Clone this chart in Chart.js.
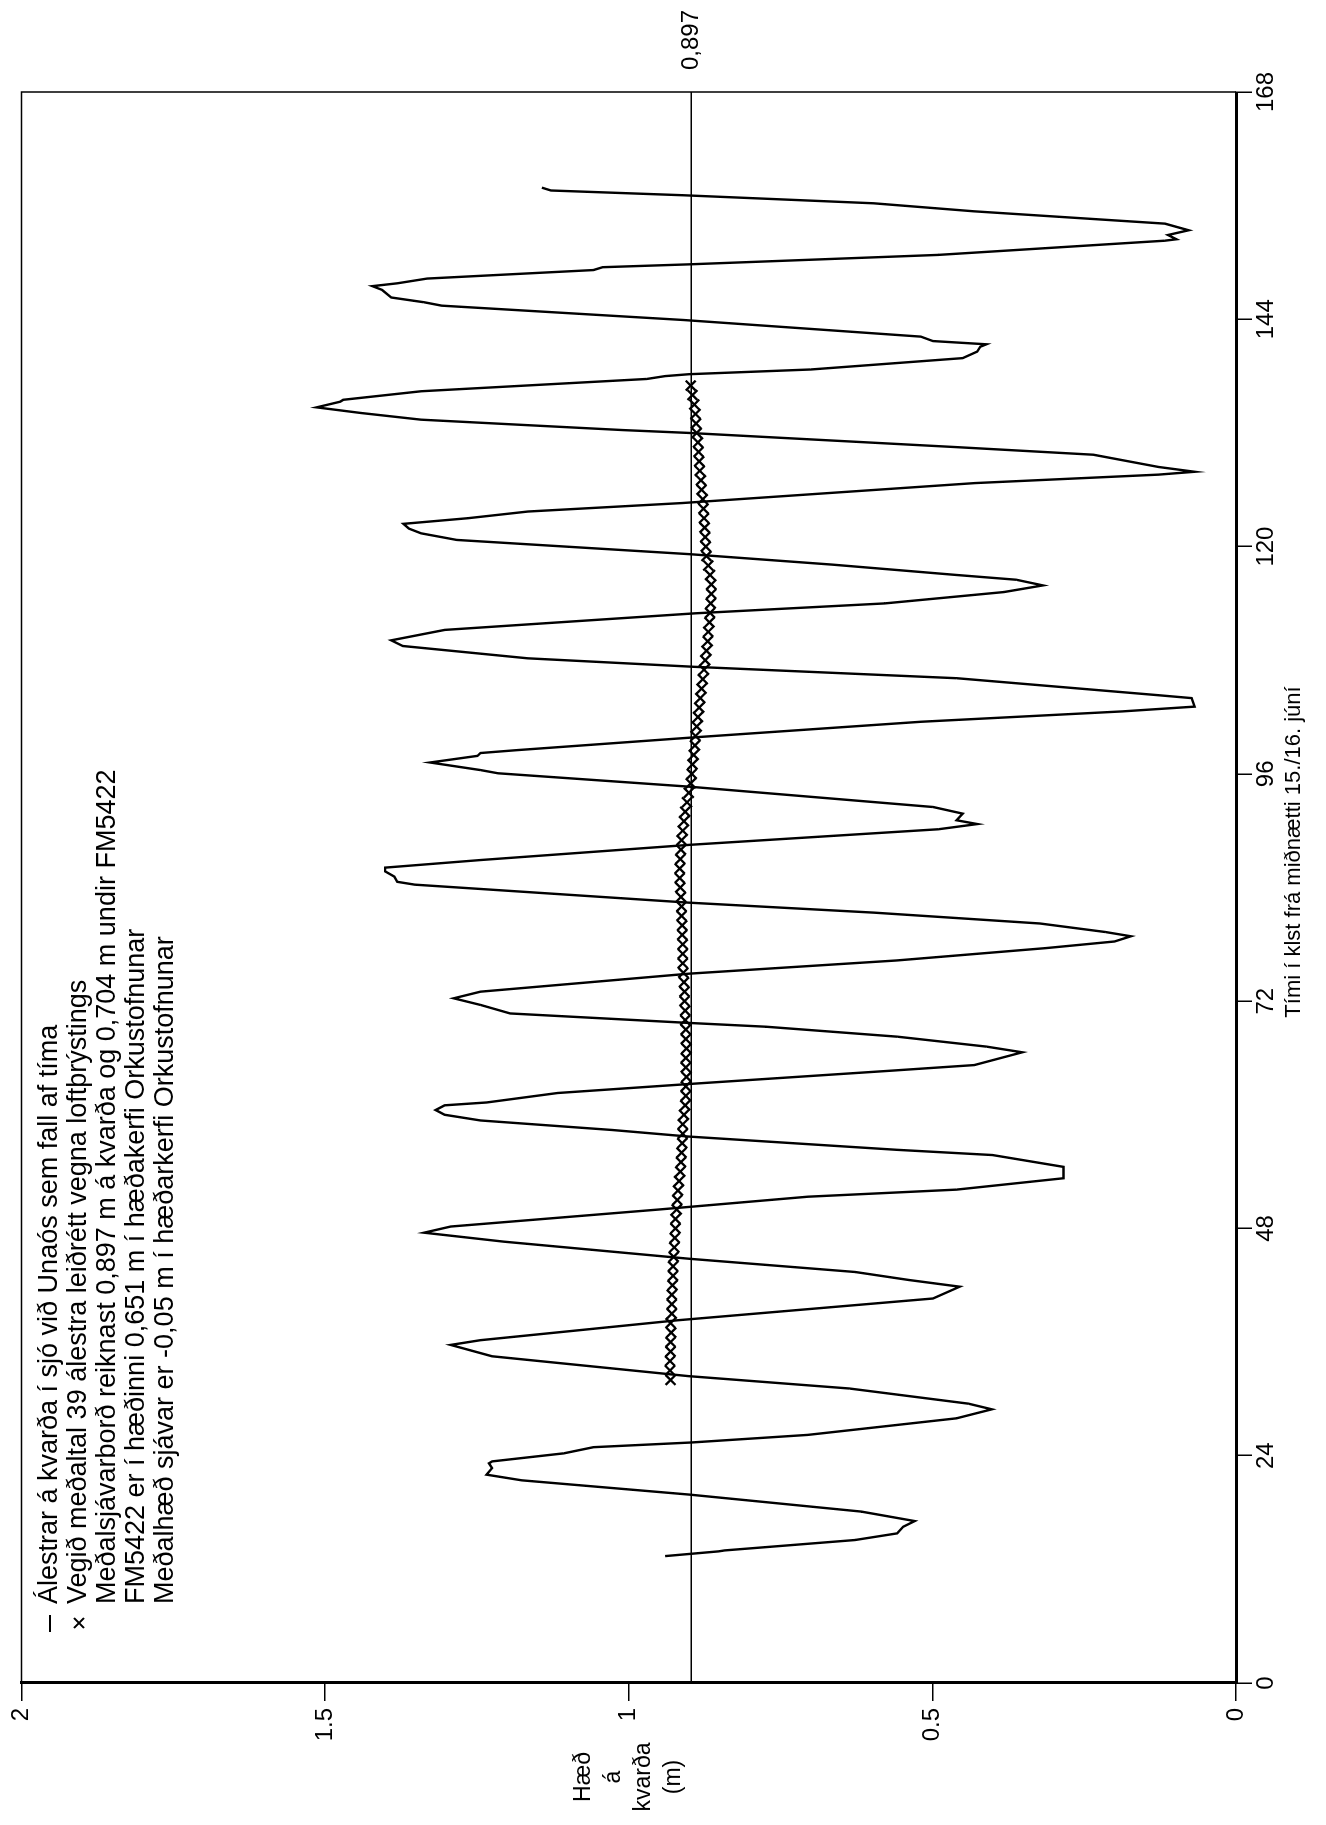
<!DOCTYPE html>
<html>
<head>
<meta charset="utf-8">
<script src="https://cdn.jsdelivr.net/npm/chart.js@4.4.1/dist/chart.umd.min.js"></script>
<style>
  html, body { margin: 0; padding: 0; background: #fff; }
  body { width: 1326px; height: 1825px; overflow: hidden; position: relative; }
  /* the sheet is laid out landscape and turned a quarter turn onto the portrait page */
  #sheet {
    position: absolute; left: 0; top: 0;
    width: 1825px; height: 1326px;
    transform-origin: 0 0;
    transform: translate(0, 1825px) rotate(-90deg);
    background: #fff;
  }
  canvas { display: block; }
</style>
</head>
<body>
<div id="sheet"><canvas id="tide" width="1825" height="1326"></canvas></div>
<script>
// Gauge readings at Unaós (hours from midnight 15./16. June, level on staff in m)
const tideHours = [
  13.4, 13.9, 14.0, 15.1, 15.8, 16.5, 17.1, 18.1, 19.9, 21.4, 22.0, 22.7, 23.2, 23.4,
  24.25, 24.9, 25.4, 26.2, 27.25, 27.95, 28.9, 29.5, 31.1, 32.4, 34.5, 35.7, 36.2, 38.3,
  40.6, 41.85, 42.55, 43.4, 44.8, 46.6, 47.55, 48.2, 50.0, 51.35, 52.1, 53.3, 54.5, 55.75,
  56.3, 57.7, 58.4, 59.4, 60.0, 60.5, 61.0, 61.3, 62.3, 63.25, 64.7, 65.25, 66.6, 67.2,
  68.25, 69.3, 69.7, 70.7, 71.6, 72.3, 73.0, 74.9, 76.3, 77.6, 78.3, 78.85, 79.3, 80.2,
  81.35, 82.4, 84.3, 84.6, 85.15, 85.7, 86.1, 86.9, 88.5, 90.15, 90.7, 91.1, 91.8, 92.5,
  94.65, 96.06, 96.4, 97.2, 97.9, 98.2, 98.5, 99.86, 101.5, 102.6, 103.1, 104.0, 104.3, 106.1,
  107.3, 108.2, 109.5, 110.1, 111.2, 112.95, 114.0, 115.2, 115.9, 116.5, 117.0, 118.1, 119.2, 120.7,
  121.4, 121.9, 122.4, 123.0, 123.7, 124.6, 126.7, 127.6, 127.9, 128.4, 129.7, 130.5, 132.0, 132.3,
  133.4, 134.1, 134.7, 135.3, 135.5, 136.4, 137.7, 138.0, 138.2, 138.7, 139.9, 140.59, 141.1, 141.36,
  141.7, 142.17, 143.93, 145.44, 145.8, 146.3, 147.1, 147.5, 147.8, 148.3, 149.2, 149.5, 149.8, 150.8,
  152.3, 152.45, 152.9, 153.4, 154.1, 155.4, 156.25, 157.1, 157.6, 157.9
];
const tideLevels = [
  0.940, 0.852, 0.842, 0.627, 0.558, 0.548, 0.529, 0.617, 0.901, 1.176, 1.234, 1.225, 1.230, 1.225,
  1.107, 1.058, 0.896, 0.705, 0.558, 0.460, 0.402, 0.441, 0.637, 0.901, 1.225, 1.293, 1.244, 0.920,
  0.499, 0.455, 0.538, 0.627, 0.901, 1.205, 1.337, 1.293, 0.950, 0.705, 0.460, 0.284, 0.284, 0.401,
  0.558, 0.901, 1.028, 1.244, 1.303, 1.318, 1.303, 1.234, 1.117, 0.901, 0.558, 0.431, 0.352, 0.411,
  0.558, 0.774, 0.901, 1.195, 1.244, 1.288, 1.244, 0.901, 0.558, 0.313, 0.200, 0.173, 0.215, 0.323,
  0.597, 0.901, 1.352, 1.381, 1.386, 1.401, 1.401, 1.244, 0.901, 0.490, 0.426, 0.460, 0.450, 0.499,
  0.901, 1.215, 1.244, 1.327, 1.249, 1.244, 1.185, 0.891, 0.519, 0.186, 0.068, 0.073, 0.127, 0.460,
  0.891, 1.166, 1.372, 1.391, 1.303, 0.891, 0.578, 0.382, 0.318, 0.362, 0.460, 0.666, 0.900, 1.283,
  1.342, 1.362, 1.371, 1.264, 1.166, 0.911, 0.431, 0.127, 0.068, 0.127, 0.235, 0.460, 0.901, 1.009,
  1.342, 1.440, 1.514, 1.475, 1.470, 1.342, 0.970, 0.940, 0.901, 0.700, 0.450, 0.426, 0.421, 0.411,
  0.499, 0.519, 0.911, 1.308, 1.337, 1.391, 1.406, 1.422, 1.381, 1.332, 1.058, 1.043, 0.901, 0.490,
  0.117, 0.098, 0.112, 0.078, 0.117, 0.431, 0.597, 0.911, 1.128, 1.143
];

// Weighted running mean of 39 readings, corrected for air pressure (hourly)
const meanHours = [
  32, 33, 34, 35, 36, 37, 38, 39, 40, 41, 42, 43, 44, 45, 46, 47, 48, 49, 50, 51, 52, 53,
  54, 55, 56, 57, 58, 59, 60, 61, 62, 63, 64, 65, 66, 67, 68, 69, 70, 71, 72, 73, 74, 75,
  76, 77, 78, 79, 80, 81, 82, 83, 84, 85, 86, 87, 88, 89, 90, 91, 92, 93, 94, 95, 96, 97,
  98, 99, 100, 101, 102, 103, 104, 105, 106, 107, 108, 109, 110, 111, 112, 113, 114, 115, 116, 117,
  118, 119, 120, 121, 122, 123, 124, 125, 126, 127, 128, 129, 130, 131, 132, 133, 134, 135, 136, 137
];
const meanLevels = [
  0.931, 0.932, 0.932, 0.931, 0.931, 0.930, 0.931, 0.929, 0.929, 0.929, 0.928, 0.927, 0.927, 0.926,
  0.925, 0.924, 0.923, 0.923, 0.921, 0.920, 0.919, 0.917, 0.915, 0.914, 0.913, 0.912, 0.911, 0.911,
  0.909, 0.907, 0.906, 0.906, 0.905, 0.906, 0.906, 0.905, 0.906, 0.906, 0.907, 0.907, 0.908, 0.908,
  0.909, 0.910, 0.911, 0.911, 0.911, 0.912, 0.912, 0.913, 0.913, 0.914, 0.915, 0.916, 0.916, 0.915,
  0.914, 0.913, 0.911, 0.909, 0.907, 0.904, 0.901, 0.898, 0.896, 0.895, 0.893, 0.891, 0.890, 0.888,
  0.886, 0.884, 0.882, 0.880, 0.878, 0.876, 0.874, 0.872, 0.870, 0.869, 0.867, 0.866, 0.865, 0.864,
  0.864, 0.866, 0.869, 0.872, 0.873, 0.874, 0.875, 0.876, 0.877, 0.878, 0.880, 0.881, 0.883, 0.884,
  0.885, 0.886, 0.888, 0.889, 0.890, 0.892, 0.895, 0.898
];

// Axis ticks
const hourTicks = [0, 24, 48, 72, 96, 120, 144, 168];
const levelTicks = [0, 0.5, 1, 1.5, 2];

// Mean sea level on the staff
const MEAN_LEVEL = 0.897;
const MEAN_LABEL = '0,897';

const legendLines = [
  'Álestrar á kvarða í sjó við Unaós sem fall af tíma',
  'Vegið meðaltal 39 álestra leiðrétt vegna loftþrýstings',
  'Meðalsjávarborð reiknast 0,897 m á kvarða og 0,704 m undir FM5422',
  'FM5422 er í hæðinni 0,651 m í hæðakerfi Orkustofnunar',
  'Meðalhæð sjávar er -0,05 m í hæðarkerfi Orkustofnunar'
];
const levelTitle = ['Hæð', 'á', 'kvarða', '(m)'];
const hourTitle = 'Tími í klst frá miðnætti 15./16. júní';

const FONT = '"Liberation Sans", Arial, Helvetica, sans-serif';
const INK = '#000';

const zip = (xs, ys) => xs.map((x, i) => ({ x: x, y: ys[i] }));

// frame, legend, titles and the mean-level label
const sheetDecor = {
  id: 'sheetDecor',
  afterDraw(chart) {
    const ctx = chart.ctx;
    const a = chart.chartArea;
    const ys = chart.scales.y;
    ctx.save();

    // thin frame on the two open sides
    ctx.strokeStyle = INK;
    ctx.lineWidth = 1.5;
    ctx.beginPath();
    ctx.moveTo(a.left, a.top);
    ctx.lineTo(a.right, a.top);
    ctx.lineTo(a.right, a.bottom);
    ctx.stroke();

    // value of the mean level beside the line
    ctx.fillStyle = INK;
    ctx.font = '24px ' + FONT;
    ctx.textAlign = 'left';
    ctx.textBaseline = 'middle';
    ctx.fillText(MEAN_LABEL, a.right + 22, ys.getPixelForValue(MEAN_LEVEL));

    // legend
    ctx.font = '27px ' + FONT;
    const lx = 221, ly = 50, lh = 29;
    legendLines.forEach((t, i) => ctx.fillText(t, lx, ly + i * lh));
    ctx.lineWidth = 2;
    ctx.beginPath();
    ctx.moveTo(lx - 28, ly);
    ctx.lineTo(lx - 11, ly);
    ctx.stroke();
    const cx = lx - 19, cy = ly + lh, r = 5;
    ctx.lineWidth = 1.8;
    ctx.beginPath();
    ctx.moveTo(cx - r, cy - r); ctx.lineTo(cx + r, cy + r);
    ctx.moveTo(cx + r, cy - r); ctx.lineTo(cx - r, cy + r);
    ctx.stroke();

    // level axis title, stacked words
    ctx.font = '23px ' + FONT;
    ctx.textAlign = 'center';
    const midY = ys.getPixelForValue(1);
    levelTitle.forEach((t, i) => ctx.fillText(t, 48, midY - 45 + i * 30));

    // time axis title
    ctx.font = '22px ' + FONT;
    ctx.fillText(hourTitle, 973, 1294);

    ctx.restore();
  }
};

new Chart(document.getElementById('tide'), {
  type: 'scatter',
  data: {
    datasets: [
      {
        label: legendLines[0],
        data: zip(tideHours, tideLevels),
        showLine: true,
        borderColor: INK,
        borderWidth: 2.4,
        pointRadius: 0,
        tension: 0,
        order: 2
      },
      {
        label: legendLines[1],
        data: zip(meanHours, meanLevels),
        showLine: false,
        pointStyle: 'crossRot',
        pointRadius: 7,
        borderColor: INK,
        backgroundColor: INK,
        pointBorderWidth: 2.3,
        order: 1
      },
      {
        label: MEAN_LABEL,
        data: [{ x: hourTicks[0], y: MEAN_LEVEL }, { x: hourTicks[hourTicks.length - 1], y: MEAN_LEVEL }],
        showLine: true,
        borderColor: INK,
        borderWidth: 1.4,
        pointRadius: 0,
        order: 3
      }
    ]
  },
  options: {
    responsive: false,
    devicePixelRatio: 1,
    animation: false,
    events: [],
    layout: { padding: { top: 19, right: 92, left: 0, bottom: 0 } },
    plugins: { legend: { display: false }, tooltip: { enabled: false }, title: { display: false } },
    scales: {
      x: {
        type: 'linear',
        position: 'bottom',
        min: hourTicks[0],
        max: hourTicks[hourTicks.length - 1],
        afterBuildTicks: s => { s.ticks = hourTicks.map(v => ({ value: v })); },
        afterFit: s => { s.height = 90; },
        ticks: { color: INK, font: { family: FONT, size: 24 }, padding: 0, maxRotation: 0, autoSkip: false,
                 callback: v => String(v) },
        grid: { drawOnChartArea: false, drawTicks: true, tickLength: 16, color: INK, lineWidth: 1.5 },
        border: { display: true, color: INK, width: 3 }
      },
      y: {
        type: 'linear',
        position: 'left',
        min: levelTicks[0],
        max: levelTicks[levelTicks.length - 1],
        afterBuildTicks: s => { s.ticks = levelTicks.map(v => ({ value: v })); },
        afterFit: s => { s.width = 142; },
        ticks: { color: INK, font: { family: FONT, size: 24 }, padding: 7, autoSkip: false,
                 callback: v => String(v) },
        grid: { drawOnChartArea: false, drawTicks: true, tickLength: 18, color: INK, lineWidth: 1.5 },
        border: { display: true, color: INK, width: 3 }
      }
    }
  },
  plugins: [sheetDecor]
});
</script>
</body>
</html>
